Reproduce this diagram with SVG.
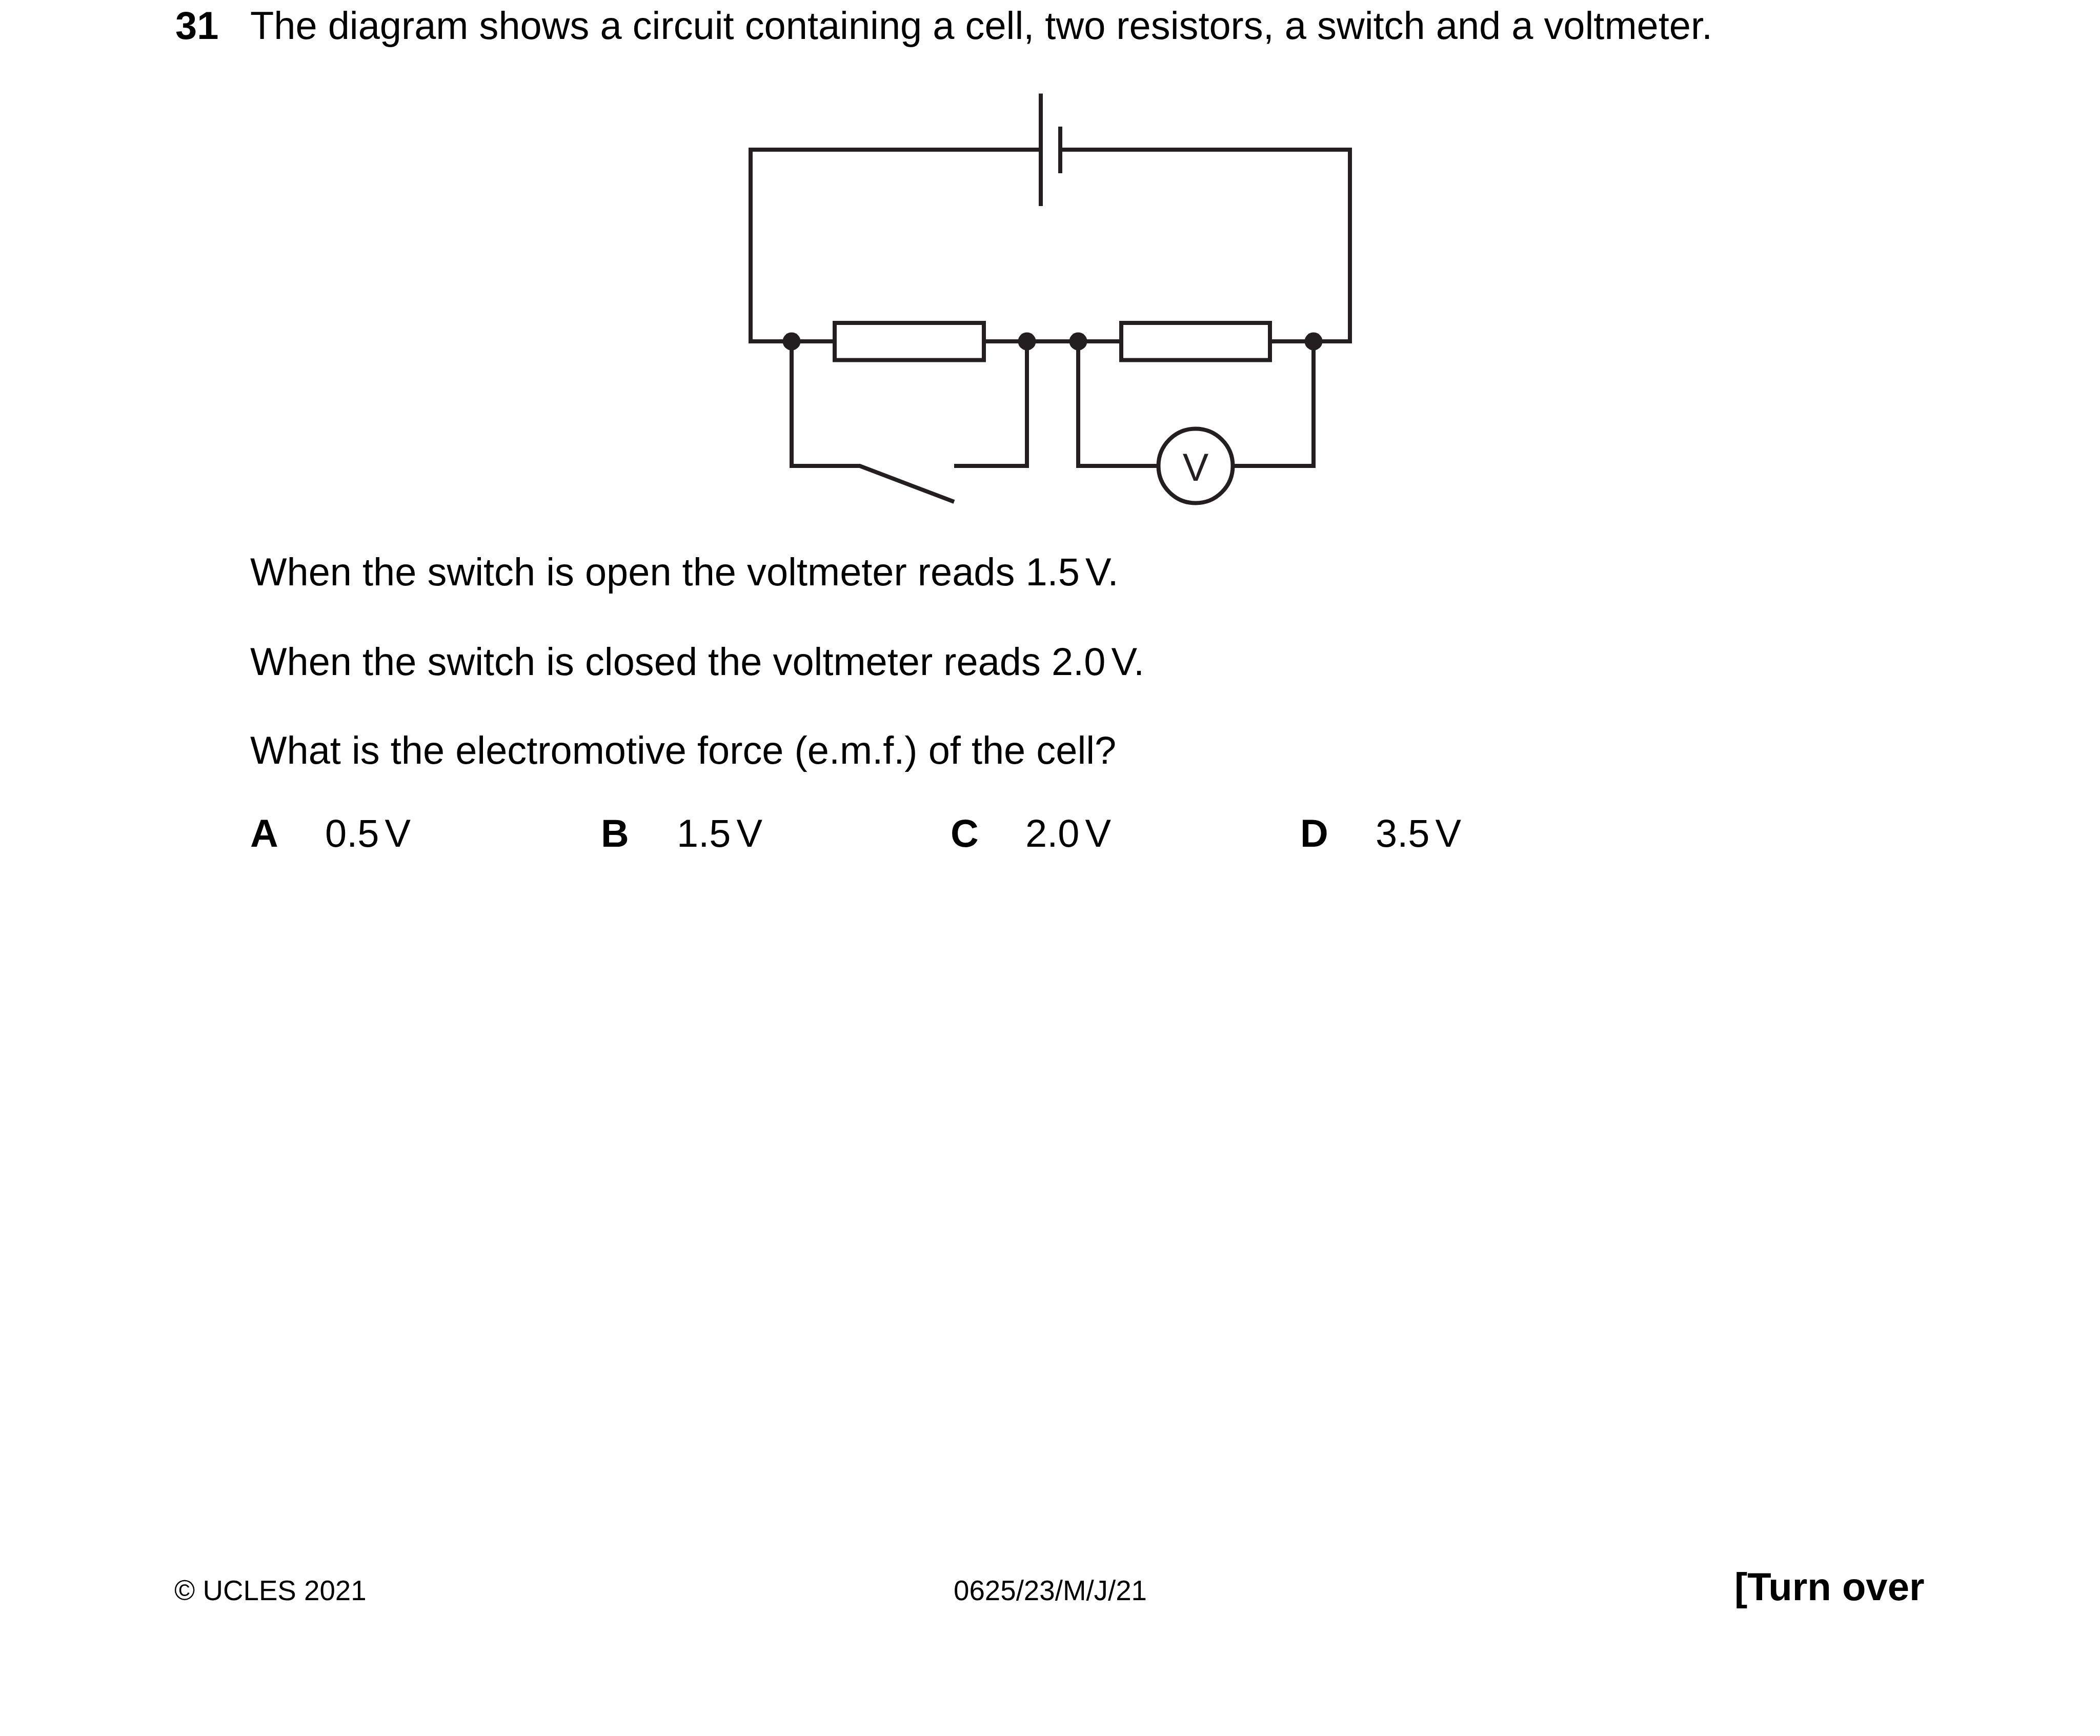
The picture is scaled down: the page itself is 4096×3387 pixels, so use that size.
<svg xmlns="http://www.w3.org/2000/svg" width="4096" height="3387" viewBox="0 0 4096 3387">
<style>
text{font-family:"Liberation Sans",Arial,sans-serif;font-size:75.8px;fill:#000}
.b{font-weight:700}
.v{word-spacing:-10px}
.f{font-size:54.7px}
.t{font-size:76.1px}
.w{fill:none;stroke:#231f20;stroke-width:8;stroke-linejoin:miter}
.r{fill:#fff;stroke:#231f20;stroke-width:8}
.d{fill:#231f20}
</style>
<rect width="4096" height="3387" fill="#fff"/>
<g id="connectors">
<path class="w" d="M2030 292H1464V666H1628M1919 666H2187M2477 666H2633V292H2069"/>
<path class="w" d="M1544 666V909H1677L1861 979"/>
<path class="w" d="M1861 909H2003V666"/>
<path class="w" d="M2103 666V909H2259M2405 909H2562V666"/>
</g>
<g id="cell">
<path class="w" d="M2030 182.5V402M2068 247V338"/>
</g>
<g id="resistor-1"><rect class="r" x="1628" y="630" width="291" height="72.5"/></g>
<g id="resistor-2"><rect class="r" x="2187" y="630" width="290" height="72.5"/></g>
<g id="junction-1"><circle class="d" cx="1544" cy="666" r="17.5"/></g>
<g id="junction-2"><circle class="d" cx="2003" cy="666" r="17.5"/></g>
<g id="junction-3"><circle class="d" cx="2103" cy="666" r="17.5"/></g>
<g id="junction-4"><circle class="d" cx="2562" cy="666" r="17.5"/></g>
<g id="voltmeter">
<circle class="r" cx="2332" cy="909" r="72.5"/>
<text x="2332" y="938" text-anchor="middle" style="fill:#231f20">V</text>
</g>
<text class="b" x="342" y="76">31</text>
<text x="488" y="76">The diagram shows a circuit containing a cell, two resistors, a switch and a voltmeter.</text>
<text x="488" y="1142">When the switch is open the voltmeter reads 1.5<tspan class="v"> </tspan>V.</text>
<text x="488" y="1316.5">When the switch is closed the voltmeter reads 2.0<tspan class="v"> </tspan>V.</text>
<text x="488" y="1490">What is the electromotive force (e.m.f.) of the cell?</text>
<text class="b" x="488" y="1652">A</text>
<text x="634" y="1652">0.5<tspan class="v"> </tspan>V</text>
<text class="b" x="1172" y="1652">B</text>
<text x="1320" y="1652">1.5<tspan class="v"> </tspan>V</text>
<text class="b" x="1854" y="1652">C</text>
<text x="2000" y="1652">2.0<tspan class="v"> </tspan>V</text>
<text class="b" x="2536" y="1652">D</text>
<text x="2683" y="1652">3.5<tspan class="v"> </tspan>V</text>
<text class="f" x="340" y="3122">© UCLES 2021</text>
<text class="f" x="1860" y="3122">0625/23/M/J/21</text>
<text class="b t" x="3383" y="3122">[Turn over</text>
</svg>
